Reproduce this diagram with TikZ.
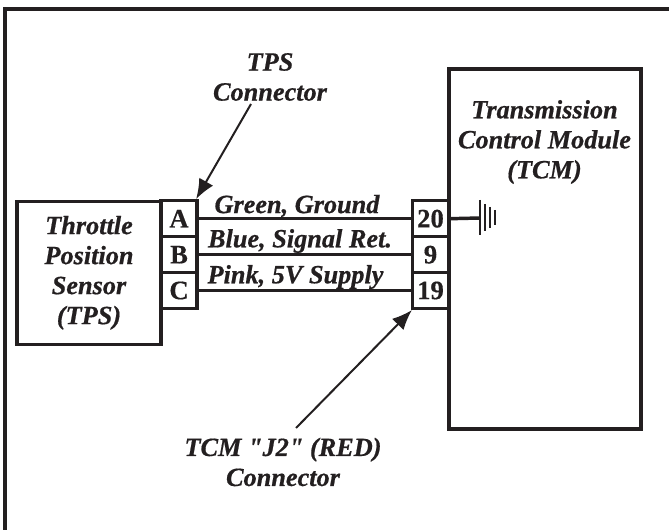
\documentclass[tikz,border=0pt]{standalone}
\usepackage{fontspec}
\setmainfont[Ligatures=TeXOff,BoldItalicFeatures={FakeBold=0.6},BoldFeatures={FakeBold=0.4}]{Liberation Serif}
\usetikzlibrary{arrows.meta}
\definecolor{ink}{HTML}{231F20}
\tikzset{
  x=0.75pt,y=-0.75pt,
  every node/.style={text=ink},
  line/.style={draw=ink,line width=2.4pt},
  thinwire/.style={draw=ink,line width=1.9pt},
  box/.style={line,fill=white,inner sep=0pt,align=center,font=\fontsize{19.7}{22.5}\selectfont\bfseries\itshape},
  pin/.style={line,fill=white,inner sep=0pt,minimum width=27pt,minimum height=27pt,font=\fontsize{20}{20}\selectfont\bfseries},
  lab/.style={inner sep=0pt,align=center,font=\fontsize{19.7}{22.5}\selectfont\bfseries\itshape},
  pointer/.style={draw=ink,line width=1.5pt,-{Latex[length=15pt,width=12pt]}},
}
\begin{document}
\begin{tikzpicture}
\useasboundingbox (0,0) rectangle (669,530);
\fill[white] (0,0) rectangle (669,530);
\draw[line,line width=2.6pt] (5,530) -- (5,9) -- (669,9);
\node[box,minimum width=108pt,minimum height=107.5pt] (tps) at (89,272.8) {Throttle\\Position\\Sensor\\(TPS)};
\node[box,minimum width=144pt,minimum height=270pt] (tcm) at (545,249) {};
\node[lab] (tcmlab) at (544.5,142) {Transmission\\Control Module\\(TCM)};
\node[pin] (a) at (179,218.7) {A};
\node[pin] (b) at (179,254.7) {B};
\node[pin] (c) at (179,290.5) {C};
\node[pin] (p20) at (430.5,218.7) {20};
\node[pin] (p9) at (430.5,254.7) {9};
\node[pin] (p19) at (430.5,290.5) {19};
\draw[thinwire] (a.east) -- (p20.west);
\draw[thinwire] (b.east) -- (p9.west);
\draw[thinwire] (c.east) -- (p19.west);
\node[lab] (w1) at (297,206) {Green, Ground};
\node[lab] (w2) at (300,241) {Blue, Signal Ret.};
\node[lab] (w3) at (295.5,277) {Pink, 5V Supply};
\coordinate (g0) at (480,218);
\draw[thinwire,line width=2.6pt] (p20.east) -- (g0);
\coordinate (g1a) at (480,200); \coordinate (g1b) at (480,235);
\coordinate (g2a) at (485,204); \coordinate (g2b) at (485,231);
\coordinate (g3a) at (490,207); \coordinate (g3b) at (490,228);
\coordinate (g4a) at (495,210); \coordinate (g4b) at (495,225);
\draw[thinwire] (g1a) -- (g1b);
\draw[draw=ink,line width=1.4pt] (g2a) -- (g2b) (g3a) -- (g3b) (g4a) -- (g4b);
\node[lab] (tpsc) at (270,77) {TPS\\Connector};
\node[lab] (j2) at (283,462) {TCM "J2" (RED)\\Connector};
\coordinate (s1) at (251,104);
\coordinate (s2) at (296,428);
\draw[pointer] (s1) -- ([shift={(-2.5,0)}]a.north east);
\draw[pointer] (s2) -- ([shift={(1,0)}]p19.south west);
\end{tikzpicture}
\end{document}
